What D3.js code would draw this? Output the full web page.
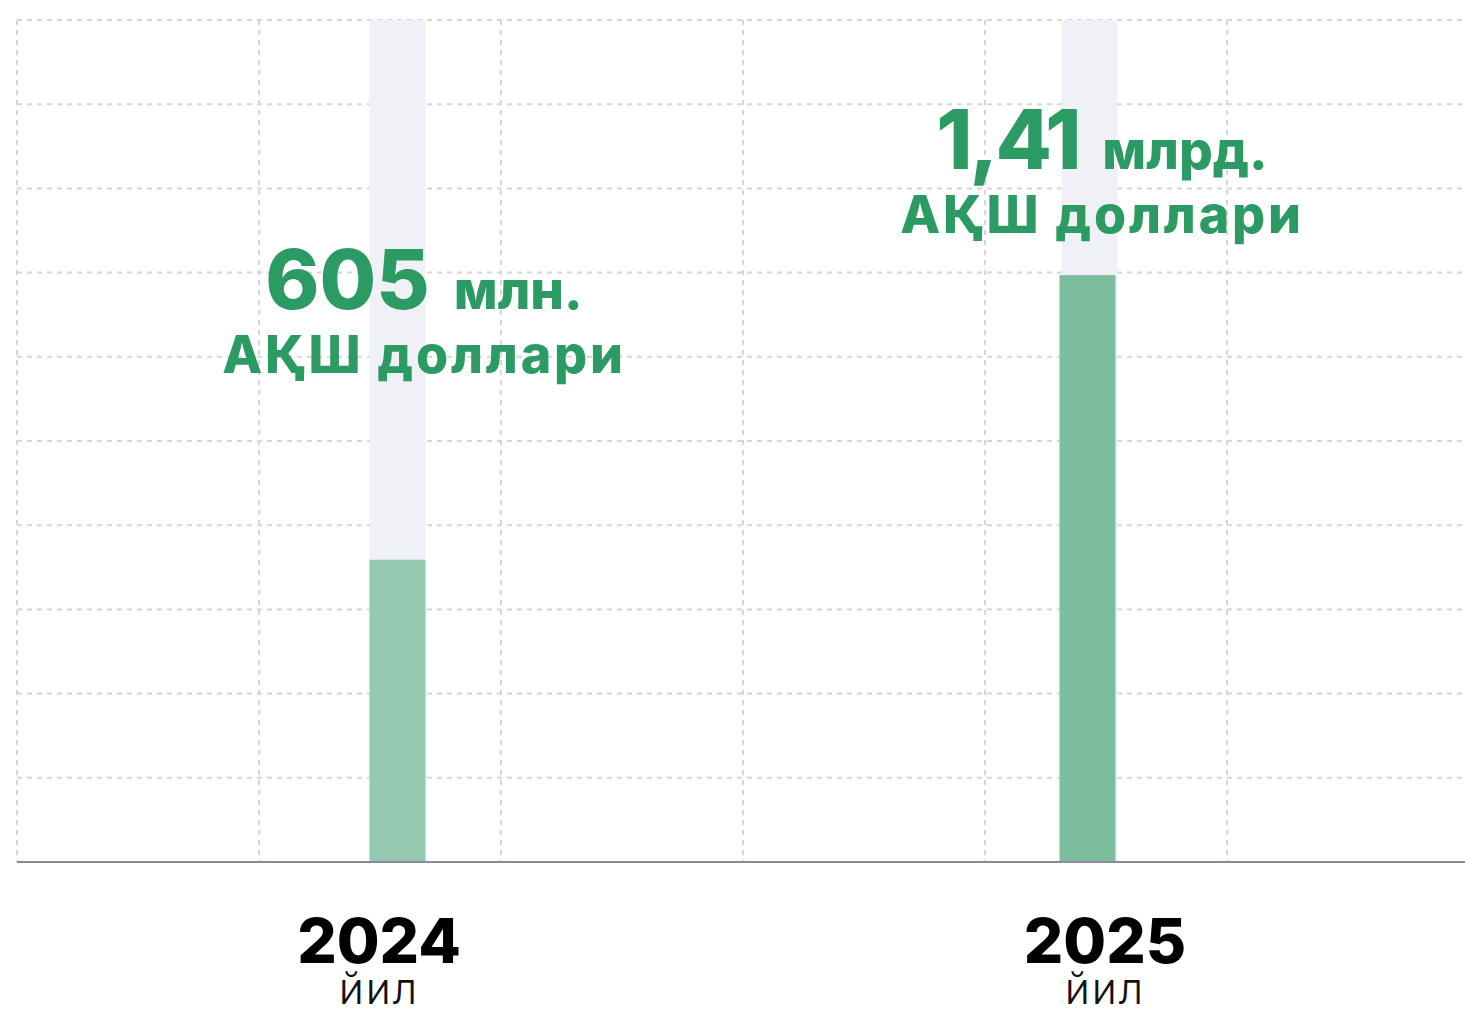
<!DOCTYPE html>
<meta charset="utf-8">
<style>
body {
  margin: 0;
  background: #fff;
  font-family: Inter, "Open Sans", sans-serif;
}
svg {
  display: block;
}
.grid line {
  stroke: #d6d6d8;
  stroke-width: 2px;
  stroke-dasharray: 5,5;
}
.baseline {
  stroke: #8c8a98;
  stroke-width: 2px;
}
.value text {
  fill: #2c9a63;
  font-weight: 800;
}
.year {
  fill: #000;
  font-weight: 800;
}
.unit-year {
  fill: #111;
  font-weight: 300;
}
</style>
<body>
<script src="https://d3js.org/d3.v7.min.js"></script>
<script>

// data
var years = ["2024", "2025"];
var amountsMlnUsd = [605, 1410];
var bigNumbers = ["605", "1,41"];
var units = ["млн.", "млрд."];
var currency = "АҚШ доллари";
var yearWord = "йил";
// bar fill, in grid rows (track = 10 rows)
var barLevels = [3.59, 6.97];
var gridRows = 10;
var gridCols = 6;

var width = 1465,
    height = 1012;

var plotLeft = 17, plotTop = 20, plotBottom = 862;
var colW = 242;

var svg = d3.select("body").append("svg")
  .attr("width", width)
  .attr("height", height);

var y = d3.scaleLinear()
  .domain([0, gridRows])
  .range([plotBottom, plotTop]);

var xGrid = d3.scaleLinear()
  .domain([0, gridCols])
  .range([plotLeft, plotLeft + gridCols * colW]);

// band for the year labels
var xBand = d3.scaleBand()
  .domain(years)
  .range([plotLeft, plotLeft + gridCols * colW]);

// bars sit a bit inside the bands
var xBar = d3.scalePoint()
  .domain(years)
  .range([397.5, 1089.5]);

var barW = 56;

/* ------- GRID -------*/
var grid = svg.append("g").attr("class", "grid");

grid.selectAll("line.h")
  .data(d3.range(1, gridRows + 1))
  .enter().append("line")
  .attr("class", "h")
  .attr("x1", plotLeft).attr("x2", width)
  .attr("y1", function(d) { return y(d); })
  .attr("y2", function(d) { return y(d); });

grid.selectAll("line.v")
  .data(d3.range(0, gridCols))
  .enter().append("line")
  .attr("class", "v")
  .attr("x1", function(d) { return xGrid(d); })
  .attr("x2", function(d) { return xGrid(d); })
  .attr("y1", plotTop).attr("y2", plotBottom);

/* ------- BARS -------*/
var bars = svg.append("g").attr("class", "bars");

bars.selectAll("rect.track")
  .data(years)
  .enter().append("rect")
  .attr("class", "track")
  .attr("x", function(d) { return xBar(d) - barW / 2; })
  .attr("y", y(gridRows))
  .attr("width", barW)
  .attr("height", y(0) - y(gridRows))
  .attr("fill", "#f0f1f7");

var fills = ["#95c8b0", "#7dbd9f"];
bars.selectAll("rect.fill")
  .data(years)
  .enter().append("rect")
  .attr("class", "fill")
  .attr("x", function(d, i) { return xBar(d) - barW / 2 - i * 2; })
  .attr("y", function(d, i) { return y(barLevels[i]); })
  .attr("width", barW)
  .attr("height", function(d, i) { return y(0) - y(barLevels[i]); })
  .attr("fill", function(d, i) { return fills[i]; });

svg.append("line")
  .attr("class", "baseline")
  .attr("x1", plotLeft).attr("x2", width)
  .attr("y1", plotBottom).attr("y2", plotBottom);

/* ------- VALUE LABELS -------*/
// label blocks: centre x and first baseline
var labelPos = [[424, 309], [1102, 169]];

var value = svg.append("g").attr("class", "value");

years.forEach(function(yr, i) {
  var g = value.append("g")
    .attr("transform", "translate(" + labelPos[i] + ")");
  var t = g.append("text")
    .attr("text-anchor", "middle");
  t.append("tspan")
    .style("font-size", "82px")
    .style("letter-spacing", i == 1 ? "-3px" : "0px")
    .text(bigNumbers[i]);
  t.append("tspan")
    .attr("dx", 24)
    .style("font-size", "53px")
    .text(units[i]);
  g.append("text")
    .attr("text-anchor", "middle")
    .attr("y", 64)
    .style("font-size", "52px")
    .style("letter-spacing", "2.8px")
    .text(currency);
});

/* ------- YEAR LABELS -------*/
var xl = svg.append("g");

xl.selectAll("text.year")
  .data(years)
  .enter().append("text")
  .attr("class", "year")
  .attr("x", function(d) { return xBand(d) + xBand.bandwidth() / 2 - 1; })
  .attr("y", 963)
  .attr("text-anchor", "middle")
  .style("font-size", "62px")
  .text(function(d) { return d; });

xl.selectAll("text.unit-year")
  .data(years)
  .enter().append("text")
  .attr("class", "unit-year")
  .attr("x", function(d) { return xBand(d) + xBand.bandwidth() / 2 - 1; })
  .attr("y", 1004)
  .attr("text-anchor", "middle")
  .style("font-size", "43px")
  .style("letter-spacing", "2px")
  .text(yearWord);

</script>
</body>
